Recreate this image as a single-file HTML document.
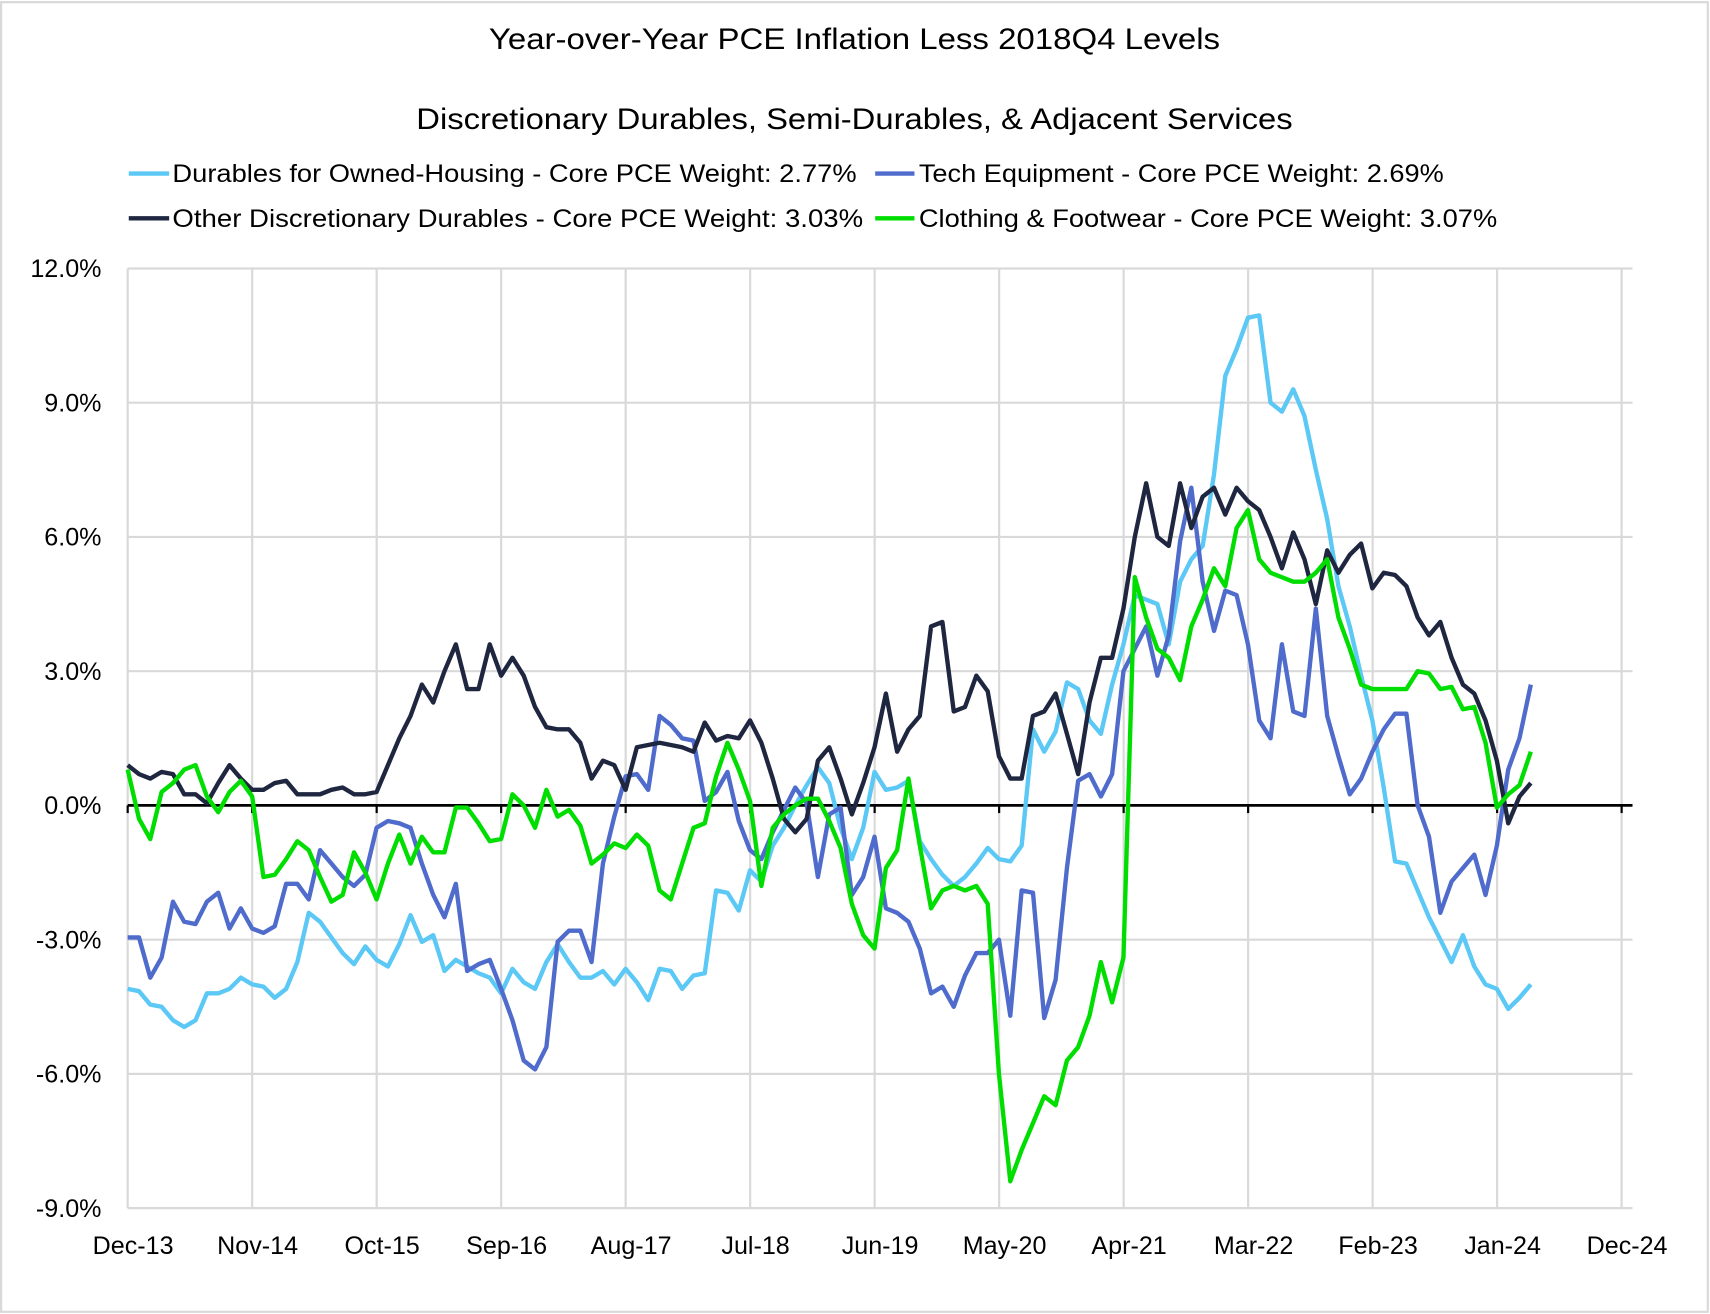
<!DOCTYPE html>
<html><head><meta charset="utf-8"><title>PCE chart</title>
<style>html,body{margin:0;padding:0;background:#fff;}svg{display:block;font-family:"Liberation Sans",sans-serif;}</style>
</head><body>
<svg id="chart" width="1710" height="1314" viewBox="0 0 1567 1204" preserveAspectRatio="none" xmlns="http://www.w3.org/2000/svg">
<rect x="1" y="2" width="1564" height="1200" fill="#fff" stroke="#d9d9d9" stroke-width="2"/>
<text x="783" y="45" font-size="27" text-anchor="middle" textLength="670" lengthAdjust="spacingAndGlyphs">Year-over-Year PCE Inflation Less 2018Q4 Levels</text>
<text x="783" y="118" font-size="27" text-anchor="middle" textLength="803" lengthAdjust="spacingAndGlyphs">Discretionary Durables, Semi-Durables, &amp; Adjacent Services</text>
<g font-size="23">
 <g><line x1="118" y1="159" x2="155" y2="159" stroke="#5BC8F5" stroke-width="4"/><text x="158" y="167" textLength="627" lengthAdjust="spacingAndGlyphs">Durables for Owned-Housing - Core PCE Weight: 2.77%</text></g>
 <g><line x1="802" y1="159" x2="838" y2="159" stroke="#4F6BCB" stroke-width="4"/><text x="842" y="167" textLength="481" lengthAdjust="spacingAndGlyphs">Tech Equipment - Core PCE Weight: 2.69%</text></g>
 <g><line x1="118" y1="200" x2="155" y2="200" stroke="#1F2640" stroke-width="4"/><text x="158" y="208" textLength="633" lengthAdjust="spacingAndGlyphs">Other Discretionary Durables - Core PCE Weight: 3.03%</text></g>
 <g><line x1="802" y1="200" x2="838" y2="200" stroke="#00DD00" stroke-width="4"/><text x="842" y="208" textLength="530" lengthAdjust="spacingAndGlyphs">Clothing &amp; Footwear - Core PCE Weight: 3.07%</text></g>
</g>
<g id="grid"></g><g id="axes"></g><g id="series"></g>
</svg>
<script>
const xTickLabels = ["Dec-13","Nov-14","Oct-15","Sep-16","Aug-17","Jul-18","Jun-19","May-20","Apr-21","Mar-22","Feb-23","Jan-24","Dec-24"];
const yTicks = [-9,-6,-3,0,3,6,9,12];
const ownedHousing = [-4.1,-4.15,-4.45,-4.5,-4.8,-4.95,-4.8,-4.2,-4.2,-4.1,
-3.85,-4.0,-4.05,-4.3,-4.1,-3.5,-2.4,-2.6,-2.95,-3.3,
-3.55,-3.15,-3.45,-3.6,-3.1,-2.45,-3.05,-2.9,-3.7,-3.45,
-3.6,-3.75,-3.85,-4.2,-3.65,-3.95,-4.1,-3.5,-3.1,-3.5,
-3.85,-3.85,-3.7,-4.0,-3.65,-3.95,-4.35,-3.65,-3.7,-4.1,
-3.8,-3.75,-1.9,-1.95,-2.35,-1.45,-1.7,-0.9,-0.5,0.0,
0.45,0.85,0.5,-0.5,-1.2,-0.5,0.75,0.35,0.4,0.55,
-0.8,-1.2,-1.55,-1.8,-1.6,-1.3,-0.95,-1.2,-1.25,-0.9,
1.7,1.2,1.65,2.75,2.6,1.9,1.6,2.7,3.6,4.7,
4.6,4.5,3.6,5.0,5.5,5.8,7.4,9.6,10.2,10.9,
10.95,9.0,8.8,9.3,8.7,7.5,6.4,4.9,4.0,2.9,
1.9,0.4,-1.25,-1.3,-1.9,-2.5,-3.0,-3.5,-2.9,-3.6,
-4.0,-4.1,-4.55,-4.3,-4.0];
const techEquipment = [-2.95,-2.95,-3.85,-3.4,-2.15,-2.6,-2.65,-2.15,-1.95,-2.75,
-2.3,-2.75,-2.85,-2.7,-1.75,-1.75,-2.1,-1.0,-1.3,-1.6,
-1.8,-1.55,-0.5,-0.35,-0.4,-0.5,-1.3,-2.0,-2.5,-1.75,
-3.7,-3.55,-3.45,-4.1,-4.8,-5.7,-5.9,-5.4,-3.05,-2.8,
-2.8,-3.5,-1.3,-0.25,0.65,0.7,0.35,2.0,1.8,1.5,
1.45,0.1,0.3,0.75,-0.35,-1.0,-1.2,-0.6,-0.1,0.4,
0.05,-1.6,-0.2,-0.05,-2.0,-1.6,-0.7,-2.3,-2.4,-2.6,
-3.2,-4.2,-4.05,-4.5,-3.8,-3.3,-3.3,-3.0,-4.7,-1.9,
-1.95,-4.75,-3.9,-1.4,0.55,0.7,0.2,0.7,3.0,3.5,
4.0,2.9,3.8,5.9,7.1,5.0,3.9,4.8,4.7,3.6,
1.9,1.5,3.6,2.1,2.0,4.4,2.0,1.1,0.25,0.6,
1.2,1.7,2.05,2.05,0.0,-0.7,-2.4,-1.7,-1.4,-1.1,
-2.0,-0.9,0.8,1.5,2.7];
const otherDurables = [0.9,0.7,0.6,0.75,0.7,0.25,0.25,0.05,0.5,0.9,
0.6,0.35,0.35,0.5,0.55,0.25,0.25,0.25,0.35,0.4,
0.25,0.25,0.3,0.9,1.5,2.0,2.7,2.3,3.0,3.6,
2.6,2.6,3.6,2.9,3.3,2.9,2.2,1.75,1.7,1.7,
1.4,0.6,1.0,0.9,0.35,1.3,1.35,1.4,1.35,1.3,
1.2,1.85,1.45,1.55,1.5,1.9,1.4,0.6,-0.3,-0.6,
-0.3,1.0,1.3,0.6,-0.2,0.5,1.3,2.5,1.2,1.7,
2.0,4.0,4.1,2.1,2.2,2.9,2.55,1.1,0.6,0.6,
2.0,2.1,2.5,1.6,0.7,2.3,3.3,3.3,4.4,6.0,
7.2,6.0,5.8,7.2,6.2,6.9,7.1,6.5,7.1,6.8,
6.6,6.0,5.3,6.1,5.5,4.5,5.7,5.2,5.6,5.85,
4.85,5.2,5.15,4.9,4.2,3.8,4.1,3.3,2.7,2.5,
1.9,1.0,-0.4,0.2,0.5];
const clothing = [0.8,-0.3,-0.75,0.3,0.5,0.8,0.9,0.2,-0.15,0.3,
0.55,0.2,-1.6,-1.55,-1.2,-0.8,-1.0,-1.6,-2.15,-2.0,
-1.05,-1.5,-2.1,-1.3,-0.65,-1.3,-0.7,-1.05,-1.05,-0.05,
-0.05,-0.4,-0.8,-0.75,0.25,0.0,-0.5,0.35,-0.25,-0.1,
-0.45,-1.3,-1.1,-0.85,-0.95,-0.65,-0.9,-1.9,-2.1,-1.3,
-0.5,-0.4,0.65,1.4,0.8,0.1,-1.8,-0.5,-0.2,0.0,
0.15,0.15,-0.35,-0.95,-2.2,-2.9,-3.2,-1.4,-1.0,0.6,
-0.9,-2.3,-1.9,-1.8,-1.9,-1.8,-2.2,-6.0,-8.4,-7.7,
-7.1,-6.5,-6.7,-5.7,-5.4,-4.7,-3.5,-4.4,-3.4,5.1,
4.2,3.5,3.3,2.8,4.0,4.6,5.3,4.9,6.2,6.6,
5.5,5.2,5.1,5.0,5.0,5.2,5.5,4.2,3.5,2.7,
2.6,2.6,2.6,2.6,3.0,2.95,2.6,2.65,2.15,2.2,
1.4,-0.05,0.25,0.45,1.2];

const NS = "http://www.w3.org/2000/svg";
const X0 = 117, X1 = 1486, Y_TOP = 246, Y_BOT = 1107;
const MONTHS = 132;
function xScale(m){ return X0 + (X1 - X0) * m / MONTHS; }
function xData(i){ return X0 + (1408 - X0) * i / 124.5; }
function yScale(v){ return Y_BOT - (Y_BOT - Y_TOP) * (v + 9) / 21; }
function mk(tag, attrs, parent){ const e = document.createElementNS(NS, tag); for (const k in attrs) e.setAttribute(k, attrs[k]); parent.appendChild(e); return e; }

const grid = document.getElementById('grid');
const axes = document.getElementById('axes');
const series = document.getElementById('series');

yTicks.forEach(v => {
  const y = yScale(v);
  if (v !== 0) {
    const gl = mk('line', {x1: X0, x2: X1 + 10, y1: y, y2: y, stroke: '#d9d9d9', 'stroke-width': 2}, grid);
    
    
  }
  const t = mk('text', {x: 93, y: y + 8, 'font-size': 23, 'text-anchor': 'end'}, axes);
  t.textContent = v.toFixed(1) + '%';
  
  
});
xTickLabels.forEach((lab, i) => {
  const x = xScale(i * 11);
  const gl = mk('line', {x1: x, x2: x, y1: Y_TOP, y2: Y_BOT, stroke: '#d9d9d9', 'stroke-width': 2}, grid);
  
  
  const tk = mk('line', {x1: x, x2: x, y1: yScale(0), y2: yScale(0) + 7, stroke: '#000', 'stroke-width': 2}, axes);
  
  
  const t = mk('text', {x: x + 5, y: 1149, 'font-size': 23, 'text-anchor': 'middle'}, axes);
  t.textContent = lab;
  
  
});
const zl = mk('line', {x1: X0, x2: 1496, y1: yScale(0), y2: yScale(0), stroke: '#000', 'stroke-width': 2.5}, axes);



function drawSeries(data, color, name){
  const pts = data.map((v, i) => xData(i).toFixed(1) + ',' + yScale(v).toFixed(1)).join(' ');
  const p = mk('polyline', {points: pts, fill: 'none', stroke: color, 'stroke-width': 4, 'stroke-linejoin': 'round'}, series);
  
  
}
drawSeries(ownedHousing, '#5BC8F5', 'owned-housing-line');
drawSeries(techEquipment, '#4F6BCB', 'tech-equipment-line');
drawSeries(otherDurables, '#1F2640', 'other-durables-line');
drawSeries(clothing, '#00DD00', 'clothing-line');
</script>
</body></html>
